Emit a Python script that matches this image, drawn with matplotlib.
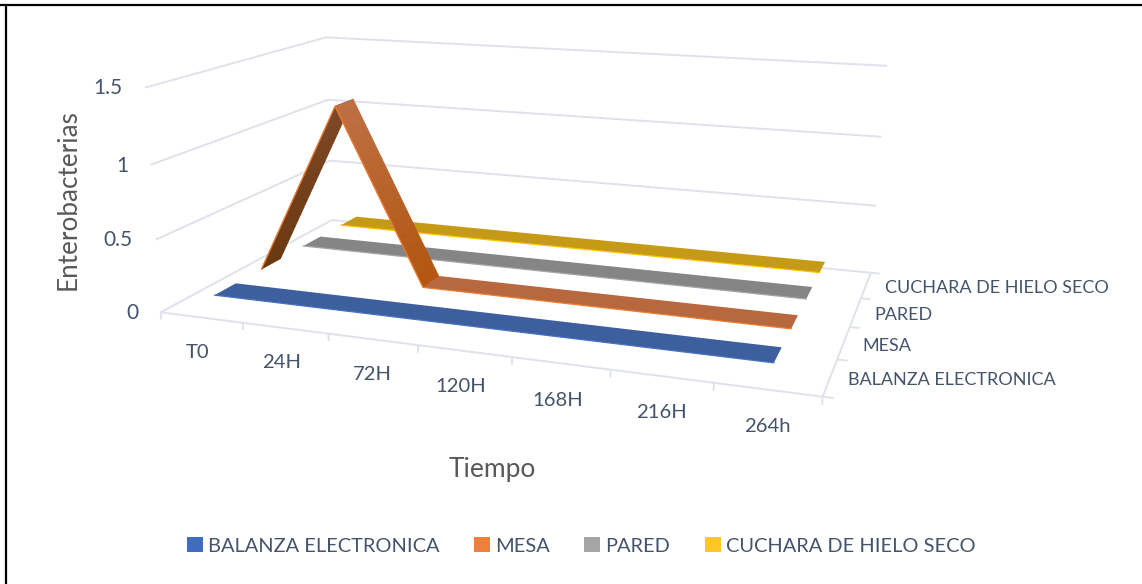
import numpy as np
import matplotlib
matplotlib.use("Agg")
import matplotlib.pyplot as plt
from matplotlib.patches import Patch
from matplotlib.lines import Line2D
from mpl_toolkits.mplot3d.art3d import Poly3DCollection

# Chart data
times = ["T0", "24H", "72H", "120H", "168H", "216H", "264h"]
balanza = [0.1, 0.1, 0.1, 0.1, 0.1, 0.1, 0.1]
mesa = [0.1, 1.3, 0.1, 0.1, 0.1, 0.1, 0.1]
pared = [0.1, 0.1, 0.1, 0.1, 0.1, 0.1, 0.1]
cuchara = [0.1, 0.1, 0.1, 0.1, 0.1, 0.1, 0.1]
series_names = ["BALANZA ELECTRONICA", "MESA", "PARED", "CUCHARA DE HIELO SECO"]
z_ticks = [0, 0.5, 1, 1.5]
z_tick_labels = ["0", "0.5", "1", "1.5"]

# Styling
W, H = 1142, 584
TEXT = "#44546A"
TITLE = "#595959"
GRID = "#DFE2EA"
ribbon_top = ["#3E5F9E", "#B8683E", "#858585", "#C49A16"]
ribbon_edge = ["#4472C4", "#ED7D31", "#A5A5A5", "#FFC000"]
legend_fill = ["#3F6CBE", "#EF7F3A", "#A5A5A5", "#FFC62A"]
rise_shade = ("#6A3810", "#7E4826")   # lower end, upper end
fall_shade = ("#B2550F", "#BE7044")
font = "Lato"

fig = plt.figure(figsize=(W / 100, H / 100), dpi=100, facecolor="white")
ax = fig.add_axes([0, 0, 1, 1], projection="3d")
ax.set_axis_off()
ax.set_proj_type("ortho")
ax.computed_zorder = False

# Camera: perspective matrix from (category, series, value) to canvas pixels
camera = np.array([
    [76.71, 62.92, -14.8, 160.7],
    [3.443, -9.76, -152.37, 312.3],
    [0.0, 1.0, 0.0, 0.0],
    [-0.02171, 0.060525, -0.03, 1.0],
])
ax.get_proj = lambda: camera
ax.apply_aspect = lambda position=None: None
ax.viewLim.intervalx = (0, W)
ax.viewLim.intervaly = (H, 0)

n_x, n_s = len(times), len(series_names)
grid_kw = dict(color=GRID, lw=1.4, zorder=1, solid_capstyle="butt")


def seg3d(p, q):
    ax.plot([p[0], q[0]], [p[1], q[1]], [p[2], q[2]], **grid_kw)


# Walls and floor
for z in z_ticks:
    seg3d((0, 0, z), (0, n_s, z))
    seg3d((0, n_s, z), (n_x, n_s, z))
seg3d((0, 0, 0), (n_x, 0, 0))
seg3d((n_x, 0, 0), (n_x, n_s, 0))

# Tick marks
for i in range(n_x + 1):
    seg3d((i, 0, 0), (i, 0, -0.05))
for j in range(n_s + 1):
    seg3d((n_x, j, 0), (n_x + 0.1, j, 0))


def mix(c0, c1, f):
    a, b = np.array(matplotlib.colors.to_rgb(c0)), np.array(matplotlib.colors.to_rgb(c1))
    return tuple(a + (b - a) * f)


def ribbon(values, depth, index, half=0.22, strips=24):
    """Flat ribbon following the values; sloped legs carry a light-to-dark shade."""
    xs = np.arange(n_x) + 0.5
    y0, y1 = depth - half, depth + half
    order = 10 + 3 * (n_s - index)
    k = 0
    while k < n_x - 1:
        v0, v1 = values[k], values[k + 1]
        if v0 == v1:
            # One polygon for a whole level run
            end = k + 1
            while end < n_x - 1 and values[end + 1] == v0:
                end += 1
            quad = [[(xs[k], y0, v0), (xs[end], y0, v0), (xs[end], y1, v0), (xs[k], y1, v0)]]
            ax.add_collection3d(
                Poly3DCollection(quad, facecolors=[ribbon_top[index]], edgecolors="none", zorder=order),
                autolim=False,
            )
            k = end
            continue
        shade = rise_shade if v1 > v0 else fall_shade
        low, high = min(v0, v1), max(v0, v1)
        quad, cols = [], []
        edges = np.linspace(0, 1, strips + 1)
        for f0, f1 in zip(edges[:-1], edges[1:]):
            xa, xb = xs[k] + f0, xs[k] + f1
            za, zb = v0 + (v1 - v0) * f0, v0 + (v1 - v0) * f1
            quad.append([(xa, y0, za), (xb, y0, zb), (xb, y1, zb), (xa, y1, za)])
            cols.append(mix(shade[0], shade[1], ((za + zb) / 2 - low) / (high - low)))
        ax.add_collection3d(
            Poly3DCollection(quad, facecolors=cols, edgecolors=cols, linewidths=0.5, zorder=order + 1),
            autolim=False,
        )
        k += 1
    ax.plot(xs, np.full(n_x, y0), values, color=ribbon_edge[index], lw=0.9,
            zorder=order + 2, solid_joinstyle="miter")


all_series = [balanza, mesa, pared, cuchara]
for j in range(n_s - 1, -1, -1):
    ribbon(all_series[j], j + 0.5, j)


def label(x, y, s, size=14.6, color=TEXT, **kw):
    fig.text(x / W, 1 - y / H, s, fontsize=size, color=color, family=font,
             ha=kw.pop("ha", "center"), va="center", **kw)


# Category labels
x_label_pos = [(198, 353), (282, 363), (372, 374), (461, 387), (558, 400), (661, 413), (767, 426)]
for (px, py), t in zip(x_label_pos, times):
    label(px, py, t)

# Series labels
s_label_pos = [(848, 380), (862, 346), (874, 315), (885, 288)]
for (px, py), t in zip(s_label_pos, series_names):
    label(px, py, t, size=13, ha="left")

# Value labels
z_label_pos = [(132, 313), (118, 240), (122, 166), (108, 88)]
for (px, py), t in zip(z_label_pos, z_tick_labels):
    label(px, py, t, size=15)

label(68, 200, "Enterobacterias", size=18.8, color=TITLE, rotation=90)
label(492, 469, "Tiempo", size=19, color=TITLE)

# Legend
handles = [Patch(facecolor=c, edgecolor="none") for c in legend_fill]
fig.legend(handles, series_names, loc="center", bbox_to_anchor=(581 / W, 1 - 546 / H),
           ncol=4, frameon=False, prop={"family": font, "size": 14.4}, labelcolor=TEXT,
           handlelength=0.8, handleheight=0.75, handletextpad=0.25, columnspacing=1.73)

# Frame on the top and left
for coords in (([0, W], [5, 5]), ([5.5, 5.5], [5, H])):
    fig.add_artist(Line2D(np.array(coords[0]) / W, 1 - np.array(coords[1]) / H,
                          color="black", lw=1.6, solid_capstyle="butt"))

fig.savefig("out.png", dpi=100, facecolor="white")
